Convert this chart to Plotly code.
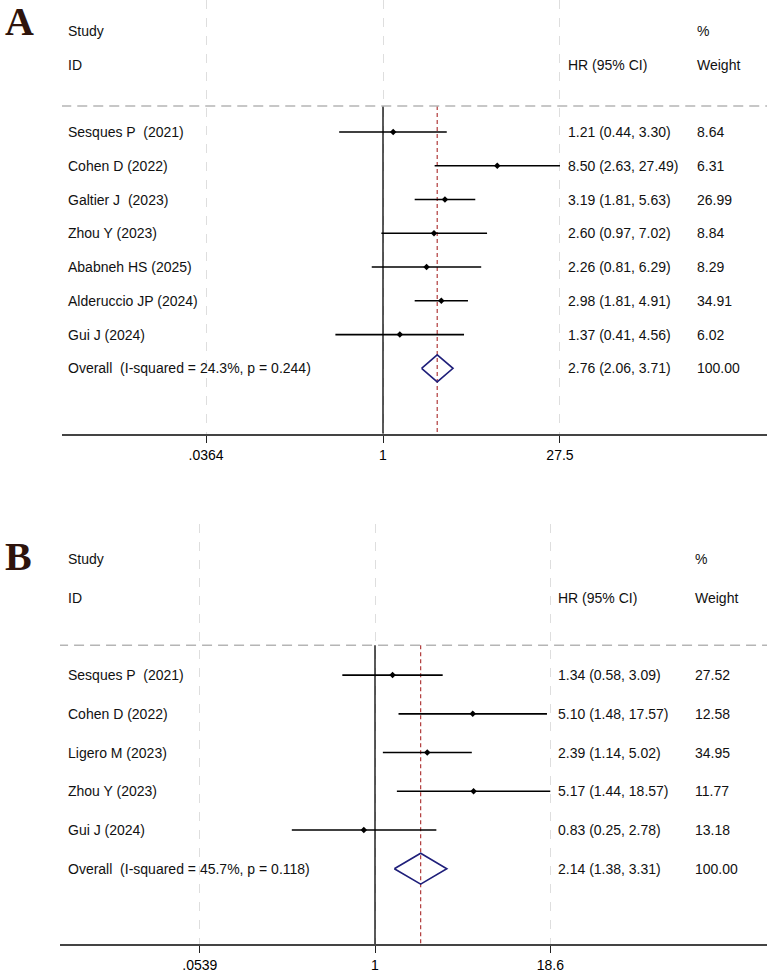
import plotly.graph_objects as go
import math

# ---------------- Data ----------------
studies_a = ["Sesques P  (2021)", "Cohen D (2022)", "Galtier J  (2023)", "Zhou Y (2023)",
             "Ababneh HS (2025)", "Alderuccio JP (2024)", "Gui J (2024)"]
hr_a = [1.21, 8.50, 3.19, 2.60, 2.26, 2.98, 1.37]
lo_a = [0.44, 2.63, 1.81, 0.97, 0.81, 1.81, 0.41]
hi_a = [3.30, 27.49, 5.63, 7.02, 6.29, 4.91, 4.56]
w_a = [8.64, 6.31, 26.99, 8.84, 8.29, 34.91, 6.02]
overall_a = (2.76, 2.06, 3.71)
overall_label_a = "Overall  (I-squared = 24.3%, p = 0.244)"
ticks_a = [0.0364, 1, 27.5]
ticklabels_a = [".0364", "1", "27.5"]

studies_b = ["Sesques P  (2021)", "Cohen D (2022)", "Ligero M (2023)", "Zhou Y (2023)", "Gui J (2024)"]
hr_b = [1.34, 5.10, 2.39, 5.17, 0.83]
lo_b = [0.58, 1.48, 1.14, 1.44, 0.25]
hi_b = [3.09, 17.57, 5.02, 18.57, 2.78]
w_b = [27.52, 12.58, 34.95, 11.77, 13.18]
overall_b = (2.14, 1.38, 3.31)
overall_label_b = "Overall  (I-squared = 45.7%, p = 0.118)"
ticks_b = [0.0539, 1, 18.6]
ticklabels_b = [".0539", "1", "18.6"]

W, H = 767, 973
FONT = "Liberation Sans, Arial, sans-serif"
fig = go.Figure()
annotations = []


def py(p):
    return 1 - p / H


def panel(idx, studies, hr, lo, hi, w, overall, olabel, ticks, ticklabels,
          top_px, axis_px, left_px, one_px, px_per_ln, ymax, ymin,
          hr_px, w_px, letter, letter_px):
    xa = "x" if idx == 1 else "x2"
    ya = "y" if idx == 1 else "y2"
    n = len(studies)
    rows = list(range(n))
    xs, ys = [], []
    for i in rows:
        xs += [lo[i], hi[i], None]
        ys += [i, i, None]
    fig.add_trace(go.Scatter(x=[1, 1], y=[-0.77, ymax], mode="lines",
                             line=dict(color="black", width=1.3),
                             xaxis=xa, yaxis=ya, hoverinfo="skip", showlegend=False))
    fig.add_trace(go.Scatter(x=[overall[0], overall[0]], y=[-0.77, ymax], mode="lines",
                             line=dict(color="#b03a3a", width=1.2, dash="4px,3px"),
                             xaxis=xa, yaxis=ya, hoverinfo="skip", showlegend=False))
    fig.add_trace(go.Scatter(x=[10 ** -6, 10 ** 6], y=[-0.77, -0.77], mode="lines",
                             line=dict(color="#b5b5b5", width=1.5, dash="10px,6px"),
                             xaxis=xa, yaxis=ya, hoverinfo="skip", showlegend=False))
    fig.add_trace(go.Scatter(x=xs, y=ys, mode="lines",
                             line=dict(color="black", width=1.6),
                             xaxis=xa, yaxis=ya, hoverinfo="skip", showlegend=False))
    fig.add_trace(go.Scatter(x=hr, y=rows, mode="markers",
                             marker=dict(symbol="diamond", size=5, color="black"),
                             xaxis=xa, yaxis=ya, hoverinfo="skip", showlegend=False))
    est, olo, ohi = overall
    fig.add_trace(go.Scatter(x=[olo, est, ohi, est, olo], y=[n, n - 0.4, n, n + 0.4, n],
                             mode="lines", line=dict(color="#1f1f7a", width=1.6),
                             xaxis=xa, yaxis=ya, hoverinfo="skip", showlegend=False))

    txt = dict(xref="paper", yref=ya, showarrow=False, xanchor="left", yanchor="middle",
               font=dict(family=FONT, size=14, color="#111"))
    labels = studies + [olabel]
    hrt = [f"{hr[i]:.2f} ({lo[i]:.2f}, {hi[i]:.2f})" for i in rows] + \
          [f"{est:.2f} ({olo:.2f}, {ohi:.2f})"]
    wt = [f"{v:.2f}" for v in w] + ["100.00"]
    for i in range(n + 1):
        annotations.append(dict(x=66 / W, y=i, text=labels[i], **txt))
        annotations.append(dict(x=hr_px / W, y=i, text=hrt[i], **txt))
        annotations.append(dict(x=w_px / W, y=i, text=wt[i], **txt))
    annotations.append(dict(x=66 / W, y=-3, text="Study", **txt))
    annotations.append(dict(x=66 / W, y=-2, text="ID", **txt))
    annotations.append(dict(x=hr_px / W, y=-2, text="HR (95% CI)", **txt))
    annotations.append(dict(x=w_px / W, y=-3, text="%", **txt))
    annotations.append(dict(x=w_px / W, y=-2, text="Weight", **txt))
    annotations.append(dict(xref="paper", yref="paper", x=3 / W, y=py(letter_px),
                            text=f"<b>{letter}</b>", showarrow=False,
                            xanchor="left", yanchor="middle",
                            font=dict(family="Liberation Serif, DejaVu Serif, serif",
                                      size=40, color="#2e140c")))

    per_dec = px_per_ln * math.log(10)
    xr = [(left_px - one_px) / per_dec, (W - one_px) / per_dec]
    xaxis = dict(type="log", domain=[left_px / W, 1], range=xr,
                 tickvals=ticks, ticktext=ticklabels, ticks="outside", ticklen=7,
                 tickcolor="#222", tickwidth=1.2,
                 showline=True, linecolor="#444", linewidth=2,
                 showgrid=True, gridcolor="#dedede", griddash="dash", gridwidth=1,
                 zeroline=False, anchor=ya, fixedrange=True,
                 tickfont=dict(family="Liberation Sans Narrow, Liberation Sans, Arial", size=14,
                               color="black"))
    yaxis = dict(domain=[py(axis_px), py(top_px)], range=[ymax, ymin],
                 showgrid=False, zeroline=False, showticklabels=False,
                 showline=False, anchor=xa, fixedrange=True)
    return xaxis, yaxis


xa1, ya1 = panel(1, studies_a, hr_a, lo_a, hi_a, w_a, overall_a, overall_label_a,
                 ticks_a, ticklabels_a, top_px=0, axis_px=437, left_px=62, one_px=383,
                 px_per_ln=53.4, ymax=(437 - 133) / 34, ymin=(0 - 133) / 34,
                 hr_px=566, w_px=695, letter="A", letter_px=22)
xa2, ya2 = panel(2, studies_b, hr_b, lo_b, hi_b, w_b, overall_b, overall_label_b,
                 ticks_b, ticklabels_b, top_px=528, axis_px=951, left_px=60, one_px=375,
                 px_per_ln=60.0, ymax=(951 - 680) / 39, ymin=(528 - 680) / 39,
                 hr_px=556, w_px=693, letter="B", letter_px=561)

fig.update_layout(width=W, height=H, margin=dict(l=0, r=0, t=0, b=0),
                  paper_bgcolor="white", plot_bgcolor="white",
                  xaxis=xa1, yaxis=ya1, xaxis2=xa2, yaxis2=ya2,
                  annotations=annotations, showlegend=False)

fig.write_html("out.html")
